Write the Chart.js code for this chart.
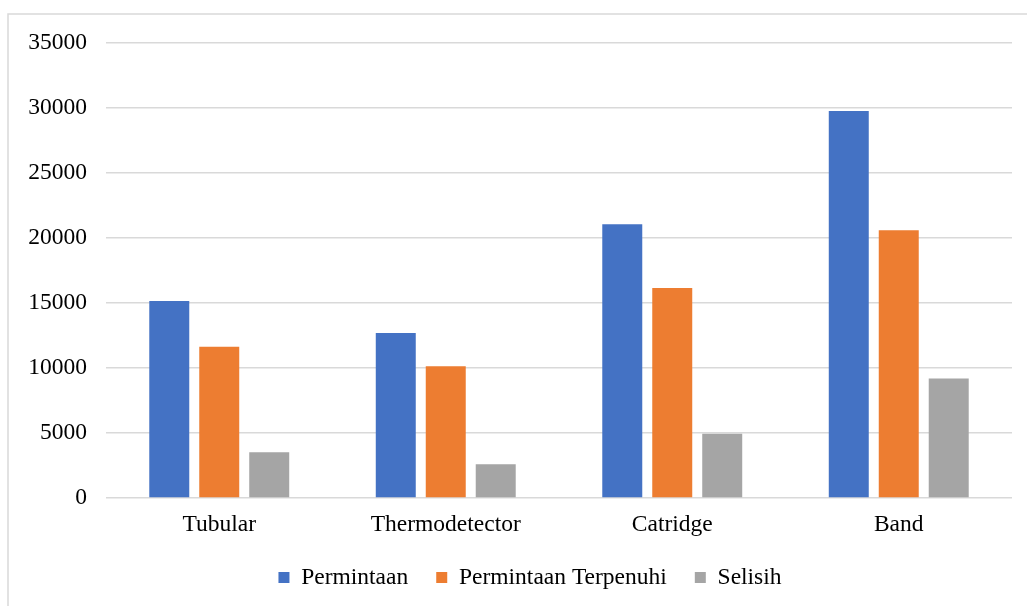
<!DOCTYPE html>
<html>
<head>
<meta charset="utf-8">
<script src="https://cdn.jsdelivr.net/npm/chart.js@4/dist/chart.umd.min.js"></script>
<style>
  html, body { margin: 0; padding: 0; background: #ffffff; }
  #wrap { position: relative; width: 1027px; height: 606px; }
</style>
</head>
<body>
<div id="wrap"><canvas id="c" width="1027" height="606"></canvas></div>
<script>
// Product categories and series values
const categories = ['Tubular', 'Thermodetector', 'Catridge', 'Band'];
const permintaan = [15150, 12690, 21050, 29770];
const permintaanTerpenuhi = [11640, 10130, 16150, 20590];
const selisih = [3510, 2590, 4950, 9200];
const seriesNames = ['Permintaan', 'Permintaan Terpenuhi', 'Selisih'];
const yTicks = [0, 5000, 10000, 15000, 20000, 25000, 30000, 35000];

const FONT = { family: '"Liberation Serif", "Times New Roman", serif', size: 23.5 };
const GRID = '#d9d9d9';

// Thin frame around the chart (left and top edges)
const framePlugin = {
  id: 'frame',
  beforeDraw(chart) {
    const ctx = chart.ctx;
    ctx.save();
    ctx.strokeStyle = GRID;
    ctx.lineWidth = 1.5;
    ctx.beginPath();
    ctx.moveTo(8, 606);
    ctx.lineTo(8, 14);
    ctx.lineTo(1027, 14);
    ctx.stroke();
    ctx.restore();
  }
};

// Center the legend row under the whole frame rather than the plot
const legendShift = {
  id: 'legendShift',
  afterLayout(chart) {
    const lg = chart.legend;
    if (lg) { lg.left += 24; lg.right += 24; }
  }
};

new Chart(document.getElementById('c'), {
  type: 'bar',
  data: {
    labels: categories,
    datasets: [
      { label: seriesNames[0], data: permintaan, backgroundColor: '#4472c4' },
      { label: seriesNames[1], data: permintaanTerpenuhi, backgroundColor: '#ed7d31' },
      { label: seriesNames[2], data: selisih, backgroundColor: '#a5a5a5' }
    ]
  },
  options: {
    responsive: false,
    animation: false,
    devicePixelRatio: 1,
    barPercentage: 0.8,
    categoryPercentage: 0.662,
    layout: { padding: { top: 43, right: 15, left: 0, bottom: 6.75 } },
    scales: {
      x: {
        grid: { display: false, drawTicks: false },
        border: { display: false },
        ticks: { color: '#000', font: FONT, padding: 13 },
        afterFit(scale) { scale.height = 39.75; }
      },
      y: {
        min: 0,
        max: yTicks[yTicks.length - 1],
        afterBuildTicks(scale) { scale.ticks = yTicks.map(v => ({ value: v })); },
        grid: { color: GRID, lineWidth: 1.5, drawTicks: false },
        border: { display: false },
        ticks: { color: '#000', font: FONT, padding: 19, callback: v => String(v) },
        afterFit(scale) { scale.width = 106; }
      }
    },
    plugins: {
      legend: {
        position: 'bottom',
        labels: {
          color: '#000',
          font: FONT,
          boxWidth: 11,
          boxHeight: 11,
          padding: 28
        }
      },
      tooltip: { enabled: false }
    }
  },
  plugins: [framePlugin, legendShift]
});
</script>
</body>
</html>
